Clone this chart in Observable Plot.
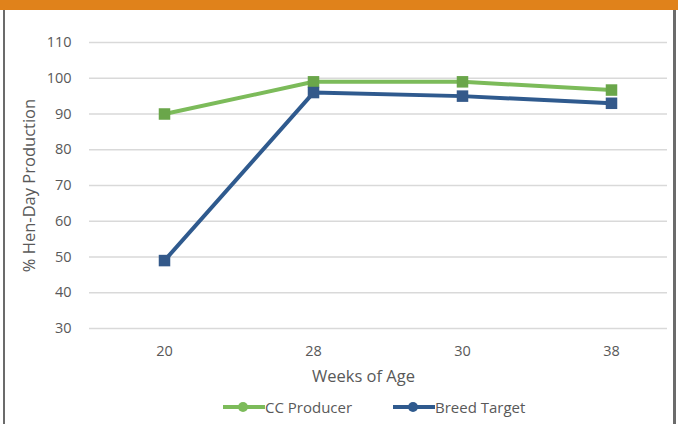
<!DOCTYPE html>
<html>
<head>
<meta charset="utf-8">
<script src="https://cdn.jsdelivr.net/npm/d3@7"></script>
<script src="https://cdn.jsdelivr.net/npm/@observablehq/plot@0.6"></script>
<style>
  html, body { margin: 0; padding: 0; background: #fff; }
  #wrap { position: relative; width: 678px; height: 424px; overflow: hidden; font-family: "Open Sans", sans-serif; }
  #band { position: absolute; left: 0; top: 0; width: 678px; height: 10px; background: #E0821B; }
  #bl { position: absolute; left: 3px; top: 10px; width: 2px; height: 414px; background: #6b6b6b; }
  #br { position: absolute; left: 673px; top: 10px; width: 3px; height: 414px; background: #6b6b6b; }
  #chart { position: absolute; left: 0; top: 0; }
  #legend { position: absolute; top: 397px; left: 0; width: 678px; height: 20px; font-size: 15px; color: #595959; }
  .item { position: absolute; top: 0; display: flex; align-items: center; height: 20px; }
  .sw { position: relative; width: 42px; height: 20px; }
  .sw .ln { position: absolute; left: 0; top: 8px; width: 42px; height: 4px; }
  .sw .dot { position: absolute; left: 15px; top: 5px; width: 10px; height: 10px; border-radius: 50%; }
</style>
</head>
<body>
<div id="wrap">
  <div id="chart"></div>
  <div id="band"></div>
  <div id="bl"></div>
  <div id="br"></div>
  <div id="legend"></div>
</div>
<script>
const weeks = ["20", "28", "30", "38"];
const ccProducer = [90, 99, 99, 96.7];
const breedTarget = [49, 96, 95, 93];
const yTicks = [30, 40, 50, 60, 70, 80, 90, 100, 110];
const seriesNames = ["CC Producer", "Breed Target"];
const seriesColors = ["#7CBB5A", "#2F5A8E"];
const markerColors = ["#6AA64A", "#34598A"];
const xTitle = "Weeks of Age";
const yTitle = "% Hen-Day Production";

const rows = [];
[ccProducer, breedTarget].forEach((vals, si) => {
  vals.forEach((v, i) => rows.push({ week: weeks[i], value: v, series: seriesNames[si] }));
});

const chart = Plot.plot({
  width: 678,
  height: 424,
  marginLeft: 89,
  marginRight: 11,
  marginTop: 42,
  marginBottom: 96,
  style: { fontFamily: "Open Sans, sans-serif", fontSize: "14px", color: "#595959", background: "transparent" },
  x: { type: "point", domain: weeks, range: [163, 611], padding: 0 },
  y: { domain: [30, 110] },
  color: { domain: seriesNames, range: seriesColors },
  marks: [
    Plot.ruleY(yTicks, { stroke: "#d9d9d9", strokeWidth: 1.3 }),
    Plot.axisY({ ticks: yTicks, tickSize: 0, tickPadding: 18, label: null, fill: "#595959", fontSize: 14.5 }),
    Plot.axisX({ tickSize: 0, tickPadding: 17, label: null, fill: "#595959", fontSize: 14.5 }),
    Plot.text([yTitle], { frameAnchor: "left", textAnchor: "middle", dx: -60, rotate: -90, fontSize: 16.5, fill: "#595959" }),
    Plot.text([xTitle], { frameAnchor: "bottom", dx: -15, dy: 53, fontSize: 16.5, fill: "#595959" }),
    Plot.line(rows, { x: "week", y: "value", z: "series", stroke: "series", strokeWidth: 4, strokeLinejoin: "round" }),
    Plot.dot(rows, { x: "week", y: "value", symbol: "square", r: 6.5, fill: d => markerColors[seriesNames.indexOf(d.series)], stroke: null })
  ]
});
document.getElementById("chart").appendChild(chart);

const legend = document.getElementById("legend");
const lefts = [223, 393];
seriesNames.forEach((name, i) => {
  const it = document.createElement("div");
  it.className = "item";
  it.style.left = lefts[i] + "px";
  it.innerHTML = `<div class="sw"><div class="ln" style="background:${seriesColors[i]}"></div><div class="dot" style="background:${seriesColors[i]}"></div></div><span>${name}</span>`;
  legend.appendChild(it);
});
</script>
</body>
</html>
